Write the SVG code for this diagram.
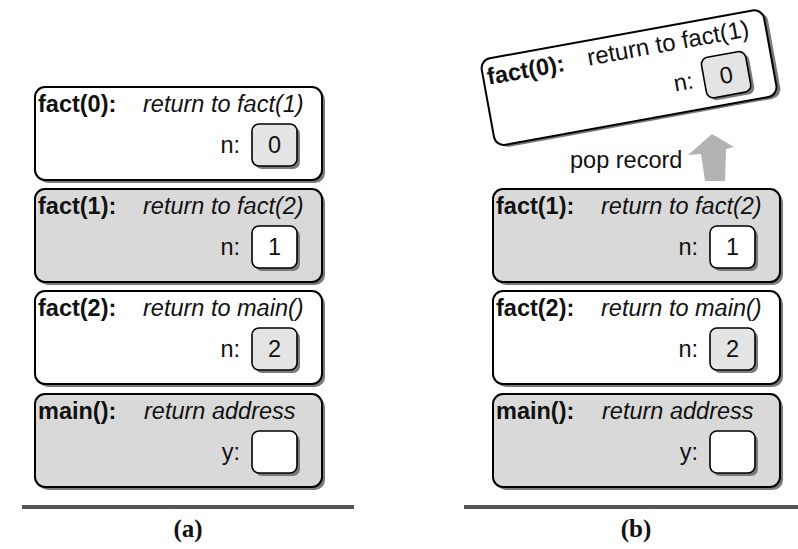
<svg xmlns="http://www.w3.org/2000/svg" width="798" height="549" viewBox="0 0 798 549">
<style>
text{font-family:"Liberation Sans",Arial,sans-serif;font-size:23.5px;fill:#111}
.lbl{font-weight:bold}
.it{font-style:italic}
.frame{stroke:#000;stroke-width:2}
.w{fill:#fff}
.g{fill:#d9d9d9}
.vg{fill:#e4e4e4}
.sh{fill:#7a7a7a}
.val{stroke:#000;stroke-width:1.6}
.mid{text-anchor:middle}
.end{text-anchor:end}
.cap{font-family:"Liberation Serif","Times New Roman",serif;font-weight:bold;font-size:25px}
.base{stroke:#555;stroke-width:4}
</style>
<g id="a-fact0" transform="translate(35,87)">
<rect class="sh" x="3" y="3" width="287" height="93" rx="10"/>
<rect class="frame w" x="0" y="0" width="287" height="93" rx="10"/>
<text class="lbl" x="3" y="25">fact(0):</text>
<text class="it" x="108" y="25">return to fact(1)</text>
<text class="end" x="205" y="66">n:</text>
<rect class="sh" x="220" y="40" width="45" height="42" rx="7"/>
<rect class="val vg" x="217" y="37" width="45" height="42" rx="7"/>
<text class="mid" x="239.5" y="66">0</text>
</g>
<g id="a-fact1" transform="translate(35,189)">
<rect class="sh" x="3" y="3" width="287" height="93" rx="10"/>
<rect class="frame g" x="0" y="0" width="287" height="93" rx="10"/>
<text class="lbl" x="3" y="25">fact(1):</text>
<text class="it" x="108" y="25">return to fact(2)</text>
<text class="end" x="205" y="66">n:</text>
<rect class="sh" x="220" y="40" width="45" height="42" rx="7"/>
<rect class="val w" x="217" y="37" width="45" height="42" rx="7"/>
<text class="mid" x="239.5" y="66">1</text>
</g>
<g id="a-fact2" transform="translate(35,291)">
<rect class="sh" x="3" y="3" width="287" height="93" rx="10"/>
<rect class="frame w" x="0" y="0" width="287" height="93" rx="10"/>
<text class="lbl" x="3" y="25">fact(2):</text>
<text class="it" x="108" y="25">return to main()</text>
<text class="end" x="205" y="66">n:</text>
<rect class="sh" x="220" y="40" width="45" height="42" rx="7"/>
<rect class="val vg" x="217" y="37" width="45" height="42" rx="7"/>
<text class="mid" x="239.5" y="66">2</text>
</g>
<g id="a-main" transform="translate(35,394)">
<rect class="sh" x="3" y="3" width="287" height="93" rx="10"/>
<rect class="frame g" x="0" y="0" width="287" height="93" rx="10"/>
<text class="lbl" x="3" y="25">main():</text>
<text class="it" x="109" y="25">return address</text>
<text class="end" x="205" y="66">y:</text>
<rect class="sh" x="220" y="40" width="45" height="42" rx="7"/>
<rect class="val w" x="217" y="37" width="45" height="42" rx="7"/>
</g>
<g id="b-fact0" transform="translate(480,60) rotate(-10.3)">
<rect class="sh" x="3.5" y="2.5" width="287" height="88" rx="10"/>
<rect class="frame w" x="0" y="0" width="287" height="88" rx="10"/>
<text class="lbl" x="4" y="26">fact(0):</text>
<text x="106" y="25" style="font-size:24px">return to fact(1)</text>
<text class="end" x="206" y="66">n:</text>
<rect class="sh" x="220" y="41" width="45" height="41" rx="7"/>
<rect class="val vg" x="217" y="38" width="45" height="41" rx="7"/>
<text class="mid" x="239.5" y="67">0</text>
</g>
<g id="b-fact1" transform="translate(493,189)">
<rect class="sh" x="3" y="3" width="287" height="93" rx="10"/>
<rect class="frame g" x="0" y="0" width="287" height="93" rx="10"/>
<text class="lbl" x="3" y="25">fact(1):</text>
<text class="it" x="108" y="25">return to fact(2)</text>
<text class="end" x="205" y="66">n:</text>
<rect class="sh" x="220" y="40" width="45" height="42" rx="7"/>
<rect class="val w" x="217" y="37" width="45" height="42" rx="7"/>
<text class="mid" x="239.5" y="66">1</text>
</g>
<g id="b-fact2" transform="translate(493,291)">
<rect class="sh" x="3" y="3" width="287" height="93" rx="10"/>
<rect class="frame w" x="0" y="0" width="287" height="93" rx="10"/>
<text class="lbl" x="3" y="25">fact(2):</text>
<text class="it" x="108" y="25">return to main()</text>
<text class="end" x="205" y="66">n:</text>
<rect class="sh" x="220" y="40" width="45" height="42" rx="7"/>
<rect class="val vg" x="217" y="37" width="45" height="42" rx="7"/>
<text class="mid" x="239.5" y="66">2</text>
</g>
<g id="b-main" transform="translate(493,394)">
<rect class="sh" x="3" y="3" width="287" height="93" rx="10"/>
<rect class="frame g" x="0" y="0" width="287" height="93" rx="10"/>
<text class="lbl" x="3" y="25">main():</text>
<text class="it" x="109" y="25">return address</text>
<text class="end" x="205" y="66">y:</text>
<rect class="sh" x="220" y="40" width="45" height="42" rx="7"/>
<rect class="val w" x="217" y="37" width="45" height="42" rx="7"/>
</g>
<g id="connectors">
<polygon points="712,134 734,147 726,149 725,181 705,181 701,154 688,155" fill="#b3b3b3"/>
<text x="570" y="168">pop record</text>
</g>
<g id="baselines">
<line class="base" x1="22" y1="507" x2="354" y2="507"/>
<line class="base" x1="464" y1="507" x2="798" y2="507"/>
<text class="cap mid" x="188" y="537">(a)</text>
<text class="cap mid" x="636" y="537">(b)</text>
</g>
</svg>
